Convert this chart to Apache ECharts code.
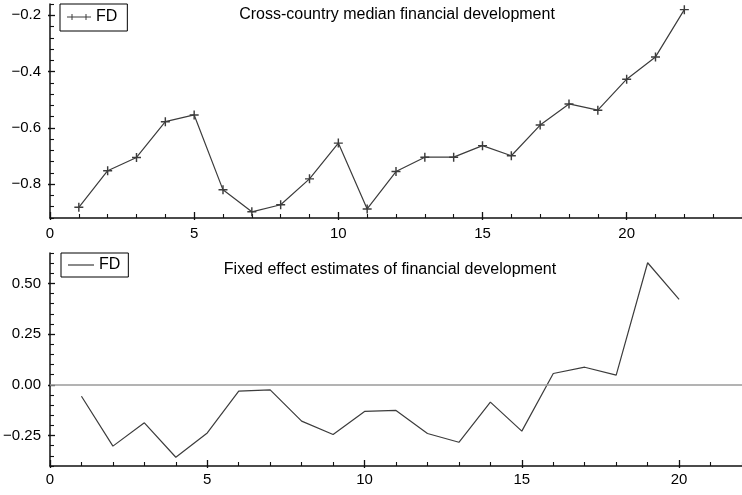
<!DOCTYPE html>
<html>
<head>
<meta charset="utf-8">
<title>Financial development</title>
<script src="https://cdn.jsdelivr.net/npm/echarts@6/dist/echarts.min.js"></script>
<style>
  html, body { margin: 0; padding: 0; background: #fff; }
  #chart { width: 742px; height: 495px; }
</style>
</head>
<body>
<div id="chart"></div>
<script>
// Period index for each panel
const periodsMedian = [1, 2, 3, 4, 5, 6, 7, 8, 9, 10, 11, 12, 13, 14, 15, 16, 17, 18, 19, 20, 21, 22];
const periodsFixed = [1, 2, 3, 4, 5, 6, 7, 8, 9, 10, 11, 12, 13, 14, 15, 16, 17, 18, 19, 20];

// Cross-country median financial development
const medianFD = [-0.882, -0.752, -0.705, -0.578, -0.554, -0.820, -0.898, -0.873, -0.781, -0.654, -0.888,
                  -0.755, -0.704, -0.704, -0.663, -0.699, -0.590, -0.515, -0.537, -0.427, -0.348, -0.180];

// Fixed effect estimates of financial development
const fixedFD = [-0.056, -0.302, -0.187, -0.357, -0.237, -0.031, -0.025, -0.179, -0.245, -0.131,
                 -0.126, -0.240, -0.283, -0.085, -0.228, 0.056, 0.087, 0.048, 0.602, 0.421];

// Tick labels
const xMajorTicks = [0, 5, 10, 15, 20];
const yMajorTop = [-0.8, -0.6, -0.4, -0.2];
const yMajorBottom = [-0.25, 0, 0.25, 0.5];

const FONT = "'Liberation Sans', Arial, Helvetica, sans-serif";
const INK = '#111';
const LINE = '#3c3c3c';

// minor tick positions between min and max with a given step, skipping major positions
function minorTicks(min, max, step, majors) {
  const out = [];
  const n = Math.round((max - min) / step);
  for (let i = 0; i <= n; i++) {
    const v = +(min + i * step).toFixed(6);
    if (!majors.some(m => Math.abs(m - v) < 1e-9)) out.push(v);
  }
  return out;
}

function signed(v, digits) {
  if (Math.abs(v) < 1e-9) return (0).toFixed(digits);
  return (v < 0 ? '\u2212' : '') + Math.abs(v).toFixed(digits);
}

const axisLineStyle = { color: INK, width: 1.5 };
const labelStyle = { color: '#000', fontSize: 15, fontFamily: FONT };

// three overlaid axes per side: major (line + inner ticks + labels), minor inner ticks, outer stubs of major ticks
function xAxes(gridIndex, max, margin) {
  const base = { type: 'value', gridIndex, min: 0, max, position: 'bottom', splitLine: { show: false } };
  return [
    Object.assign({}, base, {
      axisLine: { show: true, onZero: false, lineStyle: axisLineStyle },
      axisTick: { show: true, inside: true, length: 6, customValues: xMajorTicks, lineStyle: { color: INK, width: 1.3 } },
      axisLabel: { show: true, customValues: xMajorTicks, margin, ...labelStyle }
    }),
    Object.assign({}, base, {
      axisLine: { show: false, onZero: false },
      axisTick: { show: true, inside: true, length: 4, customValues: minorTicks(0, max, 1, xMajorTicks), lineStyle: { color: INK, width: 1.1 } },
      axisLabel: { show: false }
    }),
    Object.assign({}, base, {
      axisLine: { show: false, onZero: false },
      axisTick: { show: true, inside: false, length: 2, customValues: xMajorTicks, lineStyle: { color: INK, width: 1.3 } },
      axisLabel: { show: false }
    })
  ];
}

function yAxes(gridIndex, min, max, majors, step, digits) {
  const base = { type: 'value', gridIndex, min, max, position: 'left', splitLine: { show: false } };
  return [
    Object.assign({}, base, {
      axisLine: { show: true, onZero: false, lineStyle: axisLineStyle },
      axisTick: { show: true, inside: true, length: 5, customValues: majors, lineStyle: { color: INK, width: 1.3 } },
      axisLabel: { show: true, customValues: majors, margin: 9, formatter: v => signed(v, digits), ...labelStyle }
    }),
    Object.assign({}, base, {
      axisLine: { show: false, onZero: false },
      axisTick: { show: true, inside: true, length: 4, customValues: minorTicks(min, max, step, majors), lineStyle: { color: INK, width: 1.1 } },
      axisLabel: { show: false }
    }),
    Object.assign({}, base, {
      axisLine: { show: false, onZero: false },
      axisTick: { show: true, inside: false, length: 2, customValues: majors, lineStyle: { color: INK, width: 1.3 } },
      axisLabel: { show: false }
    })
  ];
}

const plusSymbol = 'path://M4.2,0H5.8V4.2H10V5.8H5.8V10H4.2V5.8H0V4.2H4.2Z';
const legendPlusLine = 'path://M0,2.5H24V3.5H0Z M4.5,0H5.5V6H4.5Z M18.5,0H19.5V6H18.5Z';
const legendLine = 'path://M0,0H26V1.2H0Z';

const chart = echarts.init(document.getElementById('chart'), null, { renderer: 'canvas' });

chart.setOption({
  backgroundColor: '#fff',
  animation: false,
  title: [
    { text: 'Cross-country median financial development', left: 397, top: 7, textAlign: 'center', padding: 0,
      textStyle: { fontSize: 16, fontWeight: 'normal', color: '#000', fontFamily: FONT } },
    { text: 'Fixed effect estimates of financial development', left: 390, top: 262, textAlign: 'center', padding: 0,
      textStyle: { fontSize: 16, fontWeight: 'normal', color: '#000', fontFamily: FONT } }
  ],
  legend: [
    { left: 60, top: 4, orient: 'horizontal', padding: [5, 10, 6, 7], borderColor: '#000', borderWidth: 1,
      itemWidth: 24, itemHeight: 6, selectedMode: false,
      textStyle: { fontSize: 16, color: '#000', fontFamily: FONT },
      data: [{ name: 'FD', icon: legendPlusLine }] },
    { left: 61, top: 253, orient: 'horizontal', padding: [4, 8, 4, 7], borderColor: '#000', borderWidth: 1,
      itemWidth: 26, itemHeight: 1.2, selectedMode: false,
      textStyle: { fontSize: 16, color: '#000', fontFamily: FONT },
      data: [{ name: 'FD', icon: legendLine }] }
  ],
  grid: [
    { left: 50, right: 0, top: 4, height: 214 },
    { left: 50, right: 0, top: 253, height: 213 }
  ],
  xAxis: [...xAxes(0, 24, 8), ...xAxes(1, 22, 6)],
  yAxis: [...yAxes(0, -0.92, -0.16, yMajorTop, 0.04, 1), ...yAxes(1, -0.40, 0.65, yMajorBottom, 0.05, 2)],
  series: [
    {
      name: 'FD', type: 'line', xAxisIndex: 0, yAxisIndex: 0,
      data: periodsMedian.map((p, i) => [p, medianFD[i]]),
      symbol: plusSymbol, symbolSize: 9, showSymbol: true,
      lineStyle: { color: LINE, width: 1.2 },
      itemStyle: { color: LINE },
      silent: true
    },
    {
      name: 'FD', type: 'line', xAxisIndex: 3, yAxisIndex: 3,
      data: periodsFixed.map((p, i) => [p, fixedFD[i]]),
      showSymbol: false, symbol: 'none',
      lineStyle: { color: LINE, width: 1.2 },
      itemStyle: { color: LINE },
      silent: true,
      markLine: {
        silent: true, symbol: 'none', label: { show: false },
        lineStyle: { color: '#9a9a9a', width: 1.5, type: 'solid' },
        data: [{ yAxis: 0 }]
      }
    }
  ]
});
</script>
</body>
</html>
